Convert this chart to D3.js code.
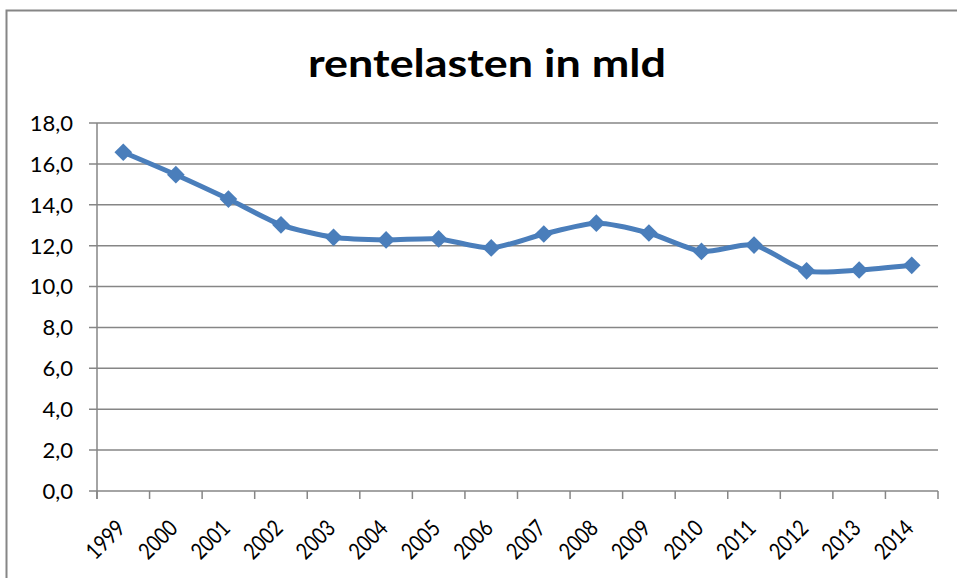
<!DOCTYPE html>
<html>
<head>
<meta charset="utf-8">
<script src="https://cdn.jsdelivr.net/npm/d3@7"></script>
<style>
  body { margin: 0; background: #fff; }
  svg { display: block; font-family: Lato, "Open Sans", sans-serif; }
</style>
</head>
<body>
<svg id="chart" width="957" height="578"></svg>
<script>
// rentelasten per jaar (mld)
const years = ["1999", "2000", "2001", "2002", "2003", "2004", "2005", "2006",
               "2007", "2008", "2009", "2010", "2011", "2012", "2013", "2014"];
const rentelasten = [16.57, 15.47, 14.28, 13.02, 12.41, 12.28, 12.33, 11.89,
                     12.57, 13.10, 12.62, 11.72, 12.03, 10.77, 10.81, 11.04];
const yTicks = [0, 2, 4, 6, 8, 10, 12, 14, 16, 18];
const title = "rentelasten in mld";

const svg = d3.select("#chart");
const width = 957, height = 578;
const margin = {left: 97, right: 19, top: 123, bottom: 87};
const blue = "#4a7ebb";
const gray = "#868686";

// outer chart border (right and bottom fall outside the window)
svg.append("rect")
    .attr("x", 6.5).attr("y", 10.5)
    .attr("width", width + 20).attr("height", height + 20)
    .attr("fill", "white")
    .attr("stroke", gray)
    .attr("stroke-width", 2);

svg.append("text")
    .attr("x", 487).attr("y", 77)
    .attr("text-anchor", "middle")
    .style("font-size", "39px")
    .style("font-weight", "bold")
    .attr("textLength", 358)
    .attr("lengthAdjust", "spacingAndGlyphs")
    .text(title);

let x = d3.scaleBand()
    .domain(years)
    .range([margin.left, width - margin.right]);

let y = d3.scaleLinear()
    .domain([0, 18])
    .range([height - margin.bottom, margin.top]);

// gridlines
svg.append("g")
    .selectAll("line")
    .data(yTicks)
    .enter().append("line")
    .attr("x1", margin.left - 8)
    .attr("x2", width - margin.right)
    .attr("y1", d => y(d))
    .attr("y2", d => y(d))
    .attr("stroke", gray)
    .attr("stroke-width", 1.5);

// y axis line
svg.append("line")
    .attr("x1", margin.left).attr("x2", margin.left)
    .attr("y1", y(18)).attr("y2", y(0) + 8)
    .attr("stroke", gray)
    .attr("stroke-width", 1.5);

// y labels
svg.append("g")
    .selectAll("text")
    .data(yTicks)
    .enter().append("text")
    .attr("x", 73)
    .attr("y", d => y(d))
    .attr("dy", "0.36em")
    .attr("text-anchor", "end")
    .style("font-size", "22px")
    .text(d => d3.format(".1f")(d).replace(".", ","));

// x ticks at category boundaries
let bounds = years.map(d => x(d)).concat([width - margin.right]);
svg.append("g")
    .selectAll("line")
    .data(bounds)
    .enter().append("line")
    .attr("x1", d => d).attr("x2", d => d)
    .attr("y1", y(0)).attr("y2", y(0) + 8)
    .attr("stroke", gray)
    .attr("stroke-width", 1.5);

// x labels, rotated
svg.append("g")
    .selectAll("text")
    .data(years)
    .enter().append("text")
    .attr("transform", d => "translate(" + (x(d) + x.bandwidth() / 2 - 2.5) + "," + (y(0) + 33) + ") rotate(-45)")
    .attr("text-anchor", "end")
    .attr("dy", "0.35em")
    .attr("textLength", 44)
    .attr("lengthAdjust", "spacingAndGlyphs")
    .style("font-size", "23px")
    .text(d => d);

let line = d3.line()
    .x((d, i) => x(years[i]) + x.bandwidth() / 2)
    .y(d => y(d))
    .curve(d3.curveCardinal.tension(0.3));

svg.append("path")
    .datum(rentelasten)
    .attr("d", line)
    .attr("fill", "none")
    .attr("stroke", blue)
    .attr("stroke-width", 5);

let diamond = d3.symbol().type(d3.symbolDiamond2).size(200);
svg.append("g")
    .selectAll("path")
    .data(rentelasten)
    .enter().append("path")
    .attr("d", diamond)
    .attr("transform", (d, i) => "translate(" + (x(years[i]) + x.bandwidth() / 2) + "," + y(d) + ")")
    .attr("fill", blue);
</script>
</body>
</html>
